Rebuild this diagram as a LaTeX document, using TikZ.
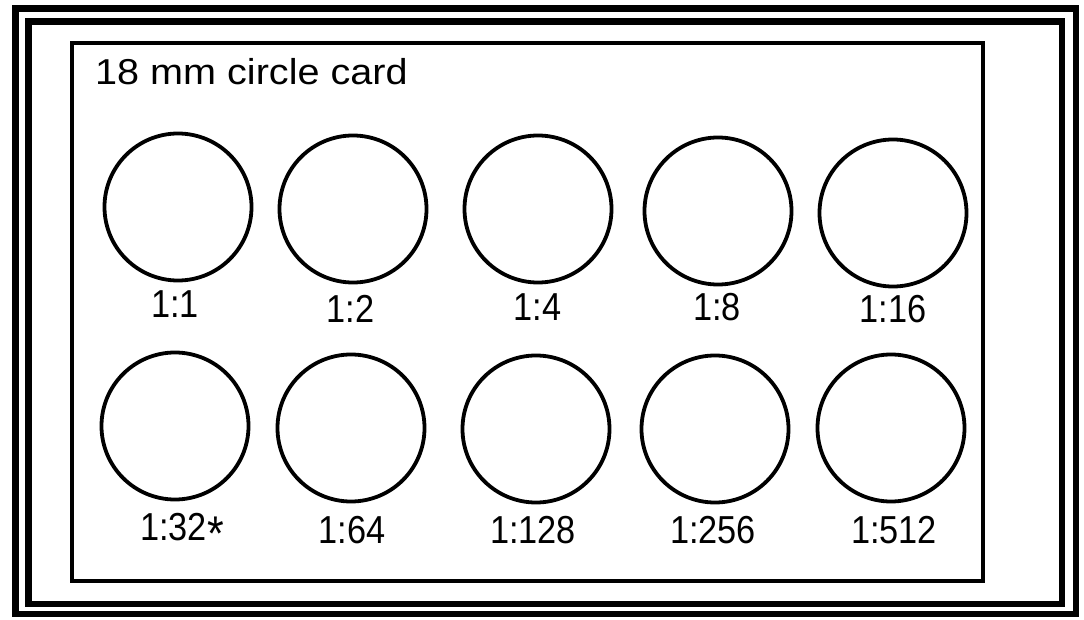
\documentclass[tikz,border=0pt]{standalone}
\usepackage{fontspec}
\setmainfont{Liberation Sans}
\newcommand{\narrowtext}[1]{\scalebox{0.88}[1]{#1}}
\begin{document}
\begin{tikzpicture}[x=1pt,y=-1pt,
  frameline/.style={draw=black,line width=6.5pt},
  cardline/.style={draw=black,line width=4pt},
  disc/.style={circle,draw=black,line width=3.8pt,minimum size=147pt,inner sep=0pt},
  ratio/.style={anchor=base,inner sep=0pt,font=\fontsize{39}{44}\selectfont},
  title/.style={anchor=base west,inner sep=0pt,font=\fontsize{36}{42}\selectfont}]
\useasboundingbox[fill=white] (0,0) rectangle (1084,620);
\draw[frameline] (15.5,8.5) rectangle (1076,614);
\draw[frameline] (28.5,21.5) rectangle (1062,604);
\draw[cardline] (72,43) rectangle (983,581);
\node[title] (t) at (95,85) {\scalebox{1.1}[1]{18 mm circle card}};
% row 1
\node[disc] (c1) at (178,207) {};
\node[disc] (c2) at (353,209) {};
\node[disc] (c3) at (538,209) {};
\node[disc] (c4) at (718,211) {};
\node[disc] (c5) at (893,213) {};
\node[ratio] (l1) at (175,317) {\narrowtext{1:1}};
\node[ratio] (l2) at (350.5,322) {\narrowtext{1:2}};
\node[ratio] (l3) at (537.5,320) {\narrowtext{1:4}};
\node[ratio] (l4) at (717,320) {\narrowtext{1:8}};
\node[ratio] (l5) at (893,323) {\narrowtext{1:16}};
% row 2
\node[disc] (c6) at (175,426) {};
\node[disc] (c7) at (351,428) {};
\node[disc] (c8) at (536,429) {};
\node[disc] (c9) at (715,429) {};
\node[disc] (c10) at (891,428) {};
\node[ratio] (l6) at (182,540) {\narrowtext{1:32\raisebox{-10pt}{\scalebox{1.25}{*}}}};
\node[ratio] (l7) at (352,543) {\narrowtext{1:64}};
\node[ratio] (l8) at (533,543) {\narrowtext{1:128}};
\node[ratio] (l9) at (713,543) {\narrowtext{1:256}};
\node[ratio] (l10) at (894,543) {\narrowtext{1:512}};
\end{tikzpicture}
\end{document}
